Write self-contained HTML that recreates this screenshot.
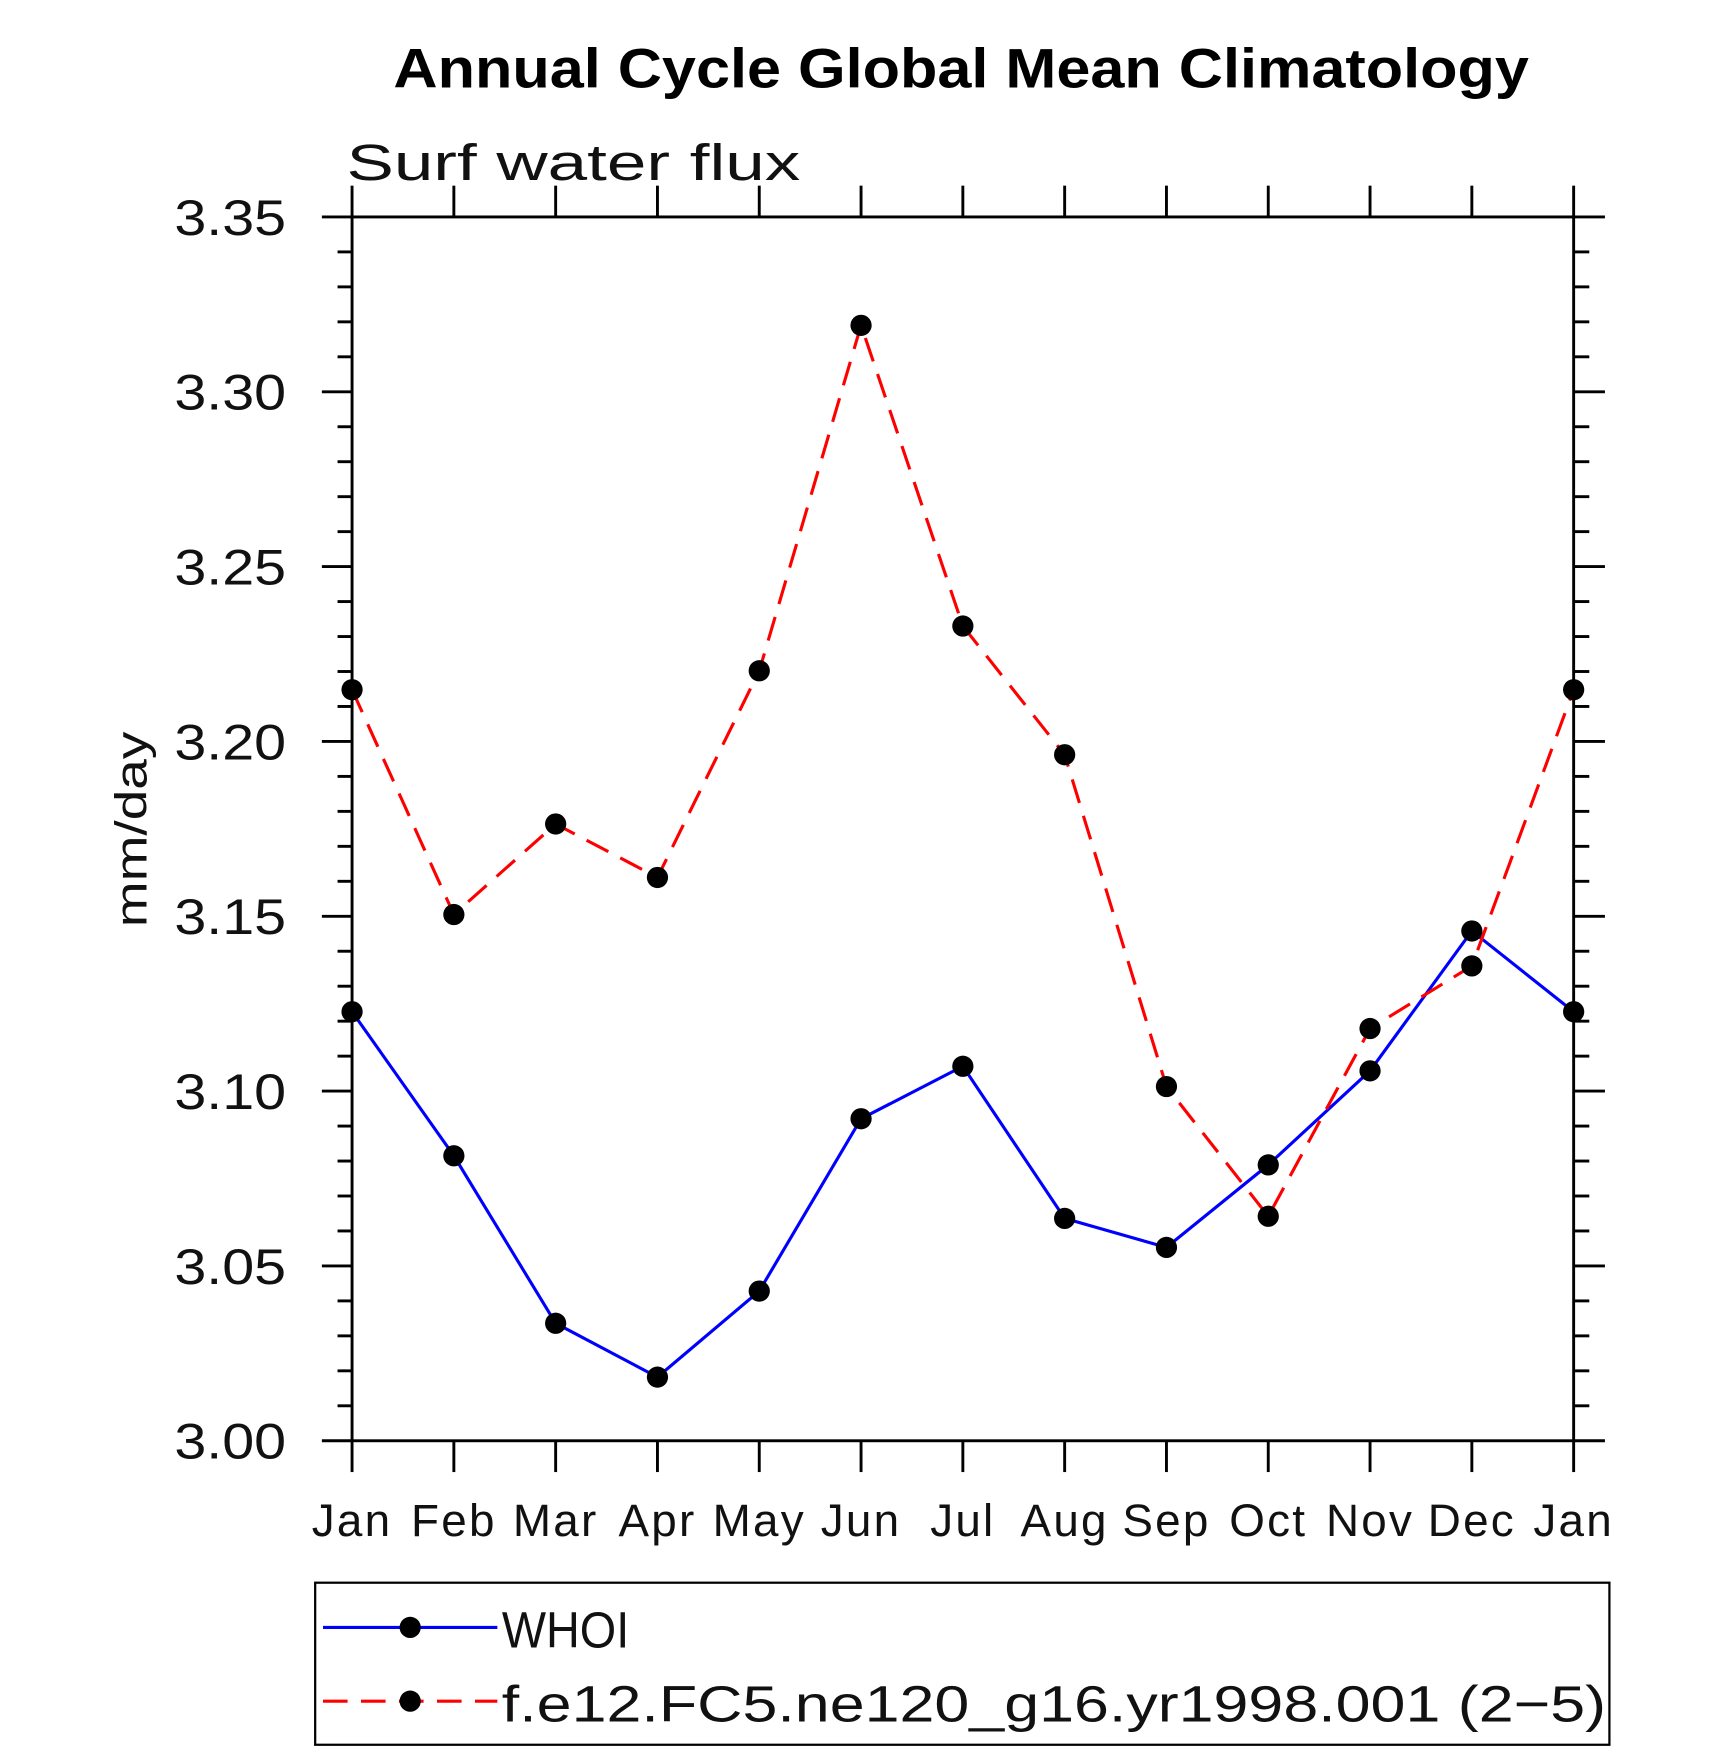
<!DOCTYPE html>
<html><head><meta charset="utf-8"><style>
html,body{margin:0;padding:0;background:#fff;}
svg{display:block;}
text{font-family:"Liberation Sans",sans-serif;}
</style></head><body>
<svg id="s" width="1710" height="1746" viewBox="0 0 1530 1562" xmlns="http://www.w3.org/2000/svg">
<rect width="1530" height="1562" fill="#fff"/>
<text x="860" y="78" text-anchor="middle" font-size="50" font-weight="bold" textLength="1016" lengthAdjust="spacingAndGlyphs">Annual Cycle Global Mean Climatology</text>
<text x="310" y="161" font-size="46" textLength="406" lengthAdjust="spacingAndGlyphs" fill="#111">Surf water flux</text>
<text transform="translate(131,742) rotate(-90)" text-anchor="middle" font-size="40" fill="#111" textLength="175" lengthAdjust="spacingAndGlyphs">mm/day</text>
<g id="ax" stroke="#000" stroke-width="2.6" fill="none"></g>
<g id="lab" font-size="45" fill="#111"></g>
<g id="ser"></g>
<rect x="282" y="1416" width="1158" height="145" fill="none" stroke="#000" stroke-width="2"/>
<line x1="289" y1="1456" x2="445" y2="1456" stroke="#0000ff" stroke-width="2.8"/>
<circle cx="367" cy="1456" r="9.5" fill="#000"/>
<text x="449" y="1474" font-size="46" fill="#111" textLength="114" lengthAdjust="spacingAndGlyphs">WHOI</text>
<line x1="289" y1="1522" x2="445" y2="1522" stroke="#ff0000" stroke-width="2.8" stroke-dasharray="22 12"/>
<circle cx="367" cy="1522" r="9.5" fill="#000"/>
<text x="449" y="1540" font-size="46" fill="#111" textLength="988" lengthAdjust="spacingAndGlyphs">f.e12.FC5.ne120_g16.yr1998.001 (2−5)</text>
</svg>
<script>
var NS="http://www.w3.org/2000/svg";
function el(p,t,a,txt){var e=document.createElementNS(NS,t);for(var k in a)e.setAttribute(k,a[k]);if(txt)e.textContent=txt;document.getElementById(p).appendChild(e);return e;}
var L=315,R=1408,T=194,B=1289;
function Y(v){return B-(v-3.0)/0.35*(B-T);}
function X(i){return L+i*(R-L)/12;}
el("ax","rect",{x:L,y:T,width:R-L,height:B-T});
for(var k=0;k<=35;k++){var y=Y(3+k*0.01);var maj=(k%5==0);
 el("ax","line",{x1:maj?288:302,y1:y,x2:L,y2:y});
 el("ax","line",{x1:R,y1:y,x2:maj?1436:1422,y2:y});
 if(maj)el("lab","text",{x:256,y:y+16,"text-anchor":"end",textLength:100,lengthAdjust:"spacingAndGlyphs"},(3+k*0.01).toFixed(2));}
var M=["Jan","Feb","Mar","Apr","May","Jun","Jul","Aug","Sep","Oct","Nov","Dec","Jan"];
for(var i=0;i<=12;i++){var x=X(i);
 el("ax","line",{x1:x,y1:166,x2:x,y2:T});
 el("ax","line",{x1:x,y1:B,x2:x,y2:1317});
 el("lab","text",{x:x,y:1374,"text-anchor":"middle","font-size":"41","letter-spacing":"2"},M[i]);}
var w=[3.1227,3.0815,3.0336,3.0182,3.0428,3.0921,3.1071,3.0636,3.0553,3.0789,3.1058,3.1458,3.1227];
var r=[3.2148,3.1505,3.1764,3.1611,3.2202,3.3190,3.2330,3.1962,3.1013,3.0642,3.1179,3.1358,3.2148];
function pts(a){return a.map(function(v,i){return X(i)+","+Y(v)}).join(" ");}
el("ser","polyline",{points:pts(w),fill:"none",stroke:"#0000ff","stroke-width":2.8});
el("ser","polyline",{points:pts(r),fill:"none",stroke:"#ff0000","stroke-width":2.8,"stroke-dasharray":"22 12"});
[w,r].forEach(function(a){a.forEach(function(v,i){el("ser","circle",{cx:X(i),cy:Y(v),r:9.5,fill:"#000"});});});
</script>
</body></html>
